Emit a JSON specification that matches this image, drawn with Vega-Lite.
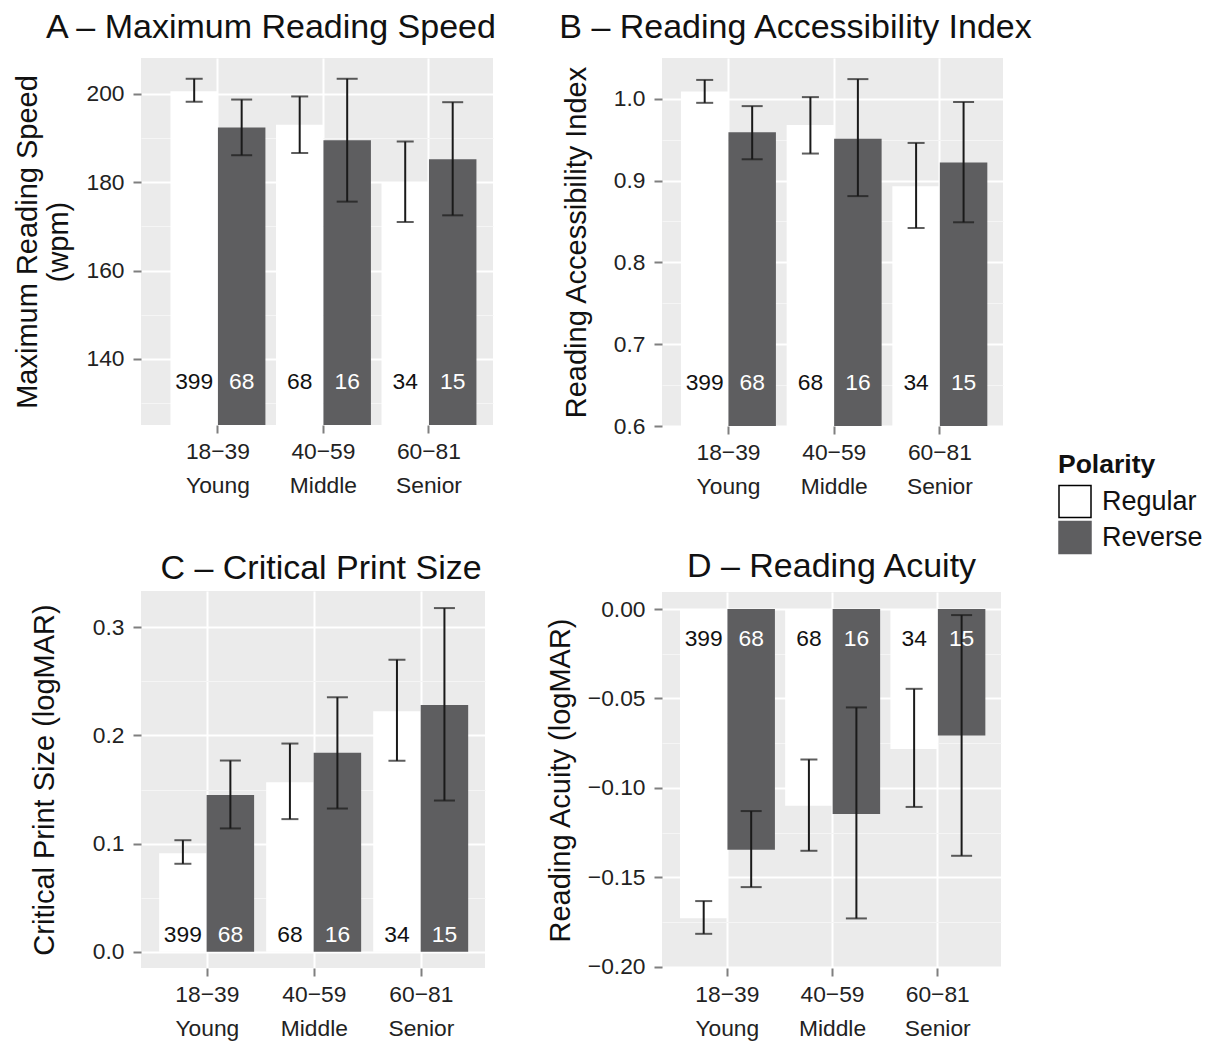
{
  "$schema": "https://vega.github.io/schema/vega-lite/v6.json",
  "padding": {"left": 13, "top": 11, "right": 5, "bottom": 5},
  "data": {"values": [
    {"AgeGroup": "18−39 Young", "Polarity": "Regular", "n": 399, "mrs": 200.6, "mrs_lo": 198.2, "mrs_hi": 203.4, "rai": 1.009, "rai_lo": 0.995, "rai_hi": 1.023, "cps": 0.0911, "cps_lo": 0.0813, "cps_hi": 0.1031, "ra": -0.1728, "ra_lo": -0.1815, "ra_hi": -0.1632},
    {"AgeGroup": "18−39 Young", "Polarity": "Reverse", "n": 68, "mrs": 192.4, "mrs_lo": 186.1, "mrs_hi": 198.7, "rai": 0.959, "rai_lo": 0.926, "rai_hi": 0.991, "cps": 0.1448, "cps_lo": 0.114, "cps_hi": 0.1768, "ra": -0.1345, "ra_lo": -0.1554, "ra_hi": -0.1129},
    {"AgeGroup": "40−59 Middle", "Polarity": "Regular", "n": 68, "mrs": 193.0, "mrs_lo": 186.6, "mrs_hi": 199.4, "rai": 0.968, "rai_lo": 0.933, "rai_hi": 1.002, "cps": 0.1568, "cps_lo": 0.1226, "cps_hi": 0.1925, "ra": -0.1099, "ra_lo": -0.1351, "ra_hi": -0.0841},
    {"AgeGroup": "40−59 Middle", "Polarity": "Reverse", "n": 16, "mrs": 189.5, "mrs_lo": 175.6, "mrs_hi": 203.4, "rai": 0.951, "rai_lo": 0.881, "rai_hi": 1.024, "cps": 0.1839, "cps_lo": 0.1324, "cps_hi": 0.2353, "ra": -0.1146, "ra_lo": -0.1729, "ra_hi": -0.055},
    {"AgeGroup": "60−81 Senior", "Polarity": "Regular", "n": 34, "mrs": 180.05, "mrs_lo": 171.0, "mrs_hi": 189.2, "rai": 0.893, "rai_lo": 0.842, "rai_hi": 0.946, "cps": 0.2224, "cps_lo": 0.1765, "cps_hi": 0.2701, "ra": -0.0782, "ra_lo": -0.1106, "ra_hi": -0.0446},
    {"AgeGroup": "60−81 Senior", "Polarity": "Reverse", "n": 15, "mrs": 185.2, "mrs_lo": 172.5, "mrs_hi": 198.1, "rai": 0.922, "rai_lo": 0.849, "rai_hi": 0.996, "cps": 0.2282, "cps_lo": 0.1398, "cps_hi": 0.3178, "ra": -0.0707, "ra_lo": -0.1379, "ra_hi": -0.0034}
  ]},
  "spacing": 49,
  "hconcat": [
    {
      "spacing": 55,
      "vconcat": [
        {
          "width": 352, "height": 367,
          "title": {"text": "A – Maximum Reading Speed", "dx": -46, "offset": 13},
          "encoding": {
            "x": {"field": "AgeGroup", "type": "nominal", "scale": {"paddingInner": 0.1, "paddingOuter": 0.218, "align": 0.64},
                  "axis": {"title": null, "labelExpr": "split(datum.label, ' ')", "labelAngle": 0, "grid": true, "bandPosition": 0.5, "labelLineHeight": 34, "labelPadding": 7}},
            "xOffset": {"field": "Polarity", "type": "nominal", "sort": ["Regular", "Reverse"]}
          },
          "layer": [
            {"mark": {"type": "bar", "clip": true},
             "encoding": {
               "y": {"field": "mrs", "type": "quantitative", "title": ["Maximum Reading Speed", "(wpm)"],
                     "scale": {"domain": [125.06, 208.1], "nice": false, "zero": false},
                     "axis": {"values": [130, 140, 150, 160, 170, 180, 190, 200], "format": "d", "titlePadding": 12,
                              "labelExpr": "datum.value % 20 == 0 ? datum.label : ''",
                              "tickOpacity": {"condition": {"test": "datum.value % 20 == 0", "value": 1}, "value": 0},
                              "gridColor": {"condition": {"test": "datum.value % 20 == 0", "value": "#FFFFFF"}, "value": "#F5F5F5"},
                              "gridWidth": {"condition": {"test": "datum.value % 20 == 0", "value": 2}, "value": 1.2}}},
               "fill": {"field": "Polarity", "type": "nominal", "scale": {"domain": ["Regular", "Reverse"], "range": ["#FFFFFF", "#5E5E60"]},
                        "legend": {"orient": "none", "legendX": 917, "legendY": 394, "title": "Polarity",
                                   "encode": {"symbols": {"update": {"strokeWidth": {"value": 1.5}, "stroke": {"signal": "datum.value === 'Regular' ? '#000000' : '#5E5E60'"}}}}}}
             }},
            {"mark": {"type": "rule", "color": "#1A1A1A", "strokeWidth": 2},
             "encoding": {"y": {"field": "mrs_lo", "type": "quantitative", "title": ["Maximum Reading Speed", "(wpm)"]}, "y2": {"field": "mrs_hi"}}},
            {"mark": {"type": "tick", "color": "#1A1A1A", "thickness": 2, "orient": "horizontal"},
             "encoding": {"y": {"field": "mrs_lo", "type": "quantitative", "title": ["Maximum Reading Speed", "(wpm)"]},
                          "size": {"condition": {"test": "datum.Polarity === 'Regular'", "value": 17}, "value": 21}}},
            {"mark": {"type": "tick", "color": "#1A1A1A", "thickness": 2, "orient": "horizontal"},
             "encoding": {"y": {"field": "mrs_hi", "type": "quantitative", "title": ["Maximum Reading Speed", "(wpm)"]},
                          "size": {"condition": {"test": "datum.Polarity === 'Regular'", "value": 17}, "value": 21}}},
            {"mark": {"type": "text", "fontSize": 22.8, "baseline": "middle"},
             "encoding": {"y": {"datum": 134.8}, "text": {"field": "n", "type": "nominal"},
                          "color": {"condition": {"test": "datum.Polarity === 'Reverse'", "value": "#FFFFFF"}, "value": "#111111"}}}
          ]
        },
        {
          "width": 344, "height": 377,
          "title": {"text": "C – Critical Print Size", "dx": 8, "offset": 5},
          "encoding": {
            "x": {"field": "AgeGroup", "type": "nominal", "scale": {"paddingInner": 0.1, "paddingOuter": 0.157, "align": 0.54},
                  "axis": {"title": null, "labelExpr": "split(datum.label, ' ')", "labelAngle": 0, "grid": true, "bandPosition": 0.5, "labelLineHeight": 34, "labelPadding": 7}},
            "xOffset": {"field": "Polarity", "type": "nominal", "sort": ["Regular", "Reverse"]}
          },
          "layer": [
            {"mark": {"type": "bar", "clip": true},
             "encoding": {
               "y": {"field": "cps", "type": "quantitative", "title": "Critical Print Size (logMAR)",
                     "scale": {"domain": [-0.0151, 0.3336], "nice": false, "zero": false},
                     "axis": {"values": [0, 0.05, 0.1, 0.15, 0.2, 0.25, 0.3], "format": ".1f", "titlePadding": 33,
                              "labelExpr": "abs(datum.value*10 - round(datum.value*10)) < 0.000001 ? datum.label : ''",
                              "tickOpacity": {"condition": {"test": "abs(datum.value*10 - round(datum.value*10)) < 0.000001", "value": 1}, "value": 0},
                              "gridColor": {"condition": {"test": "abs(datum.value*10 - round(datum.value*10)) < 0.000001", "value": "#FFFFFF"}, "value": "#F5F5F5"},
                              "gridWidth": {"condition": {"test": "abs(datum.value*10 - round(datum.value*10)) < 0.000001", "value": 2}, "value": 1.2}}},
               "fill": {"field": "Polarity", "type": "nominal", "scale": {"domain": ["Regular", "Reverse"], "range": ["#FFFFFF", "#5E5E60"]},
                        "legend": {"orient": "none", "legendX": 917, "legendY": 394, "title": "Polarity",
                                   "encode": {"symbols": {"update": {"strokeWidth": {"value": 1.5}, "stroke": {"signal": "datum.value === 'Regular' ? '#000000' : '#5E5E60'"}}}}}}
             }},
            {"mark": {"type": "rule", "color": "#1A1A1A", "strokeWidth": 2},
             "encoding": {"y": {"field": "cps_lo", "type": "quantitative", "title": "Critical Print Size (logMAR)"}, "y2": {"field": "cps_hi"}}},
            {"mark": {"type": "tick", "color": "#1A1A1A", "thickness": 2, "orient": "horizontal"},
             "encoding": {"y": {"field": "cps_lo", "type": "quantitative", "title": "Critical Print Size (logMAR)"},
                          "size": {"condition": {"test": "datum.Polarity === 'Regular'", "value": 17}, "value": 21}}},
            {"mark": {"type": "tick", "color": "#1A1A1A", "thickness": 2, "orient": "horizontal"},
             "encoding": {"y": {"field": "cps_hi", "type": "quantitative", "title": "Critical Print Size (logMAR)"},
                          "size": {"condition": {"test": "datum.Polarity === 'Regular'", "value": 17}, "value": 21}}},
            {"mark": {"type": "text", "fontSize": 22.8, "baseline": "middle"},
             "encoding": {"y": {"datum": 0.0157}, "text": {"field": "n", "type": "nominal"},
                          "color": {"condition": {"test": "datum.Polarity === 'Reverse'", "value": "#FFFFFF"}, "value": "#111111"}}}
          ]
        }
      ]
    },
    {
      "spacing": 52,
      "vconcat": [
        {
          "width": 341, "height": 368,
          "title": {"text": "B – Reading Accessibility Index", "dx": -37, "offset": 13},
          "encoding": {
            "x": {"field": "AgeGroup", "type": "nominal", "scale": {"paddingInner": 0.1, "paddingOuter": 0.163, "align": 0.55},
                  "axis": {"title": null, "labelExpr": "split(datum.label, ' ')", "labelAngle": 0, "grid": true, "bandPosition": 0.5, "labelLineHeight": 34, "labelPadding": 7}},
            "xOffset": {"field": "Polarity", "type": "nominal", "sort": ["Regular", "Reverse"]}
          },
          "layer": [
            {"mark": {"type": "bar", "clip": true},
             "encoding": {
               "y": {"field": "rai", "type": "quantitative", "title": "Reading Accessibility Index",
                     "scale": {"domain": [0.6, 1.0498], "nice": false, "zero": false},
                     "axis": {"values": [0.6, 0.65, 0.7, 0.75, 0.8, 0.85, 0.9, 0.95, 1.0], "format": ".1f", "titlePadding": 22,
                              "labelExpr": "abs(datum.value*10 - round(datum.value*10)) < 0.000001 ? datum.label : ''",
                              "tickOpacity": {"condition": {"test": "abs(datum.value*10 - round(datum.value*10)) < 0.000001", "value": 1}, "value": 0},
                              "gridColor": {"condition": {"test": "abs(datum.value*10 - round(datum.value*10)) < 0.000001", "value": "#FFFFFF"}, "value": "#F5F5F5"},
                              "gridWidth": {"condition": {"test": "abs(datum.value*10 - round(datum.value*10)) < 0.000001", "value": 2}, "value": 1.2}}},
               "fill": {"field": "Polarity", "type": "nominal", "scale": {"domain": ["Regular", "Reverse"], "range": ["#FFFFFF", "#5E5E60"]},
                        "legend": {"orient": "none", "legendX": 917, "legendY": 394, "title": "Polarity",
                                   "encode": {"symbols": {"update": {"strokeWidth": {"value": 1.5}, "stroke": {"signal": "datum.value === 'Regular' ? '#000000' : '#5E5E60'"}}}}}}
             }},
            {"mark": {"type": "rule", "color": "#1A1A1A", "strokeWidth": 2},
             "encoding": {"y": {"field": "rai_lo", "type": "quantitative", "title": "Reading Accessibility Index"}, "y2": {"field": "rai_hi"}}},
            {"mark": {"type": "tick", "color": "#1A1A1A", "thickness": 2, "orient": "horizontal"},
             "encoding": {"y": {"field": "rai_lo", "type": "quantitative", "title": "Reading Accessibility Index"},
                          "size": {"condition": {"test": "datum.Polarity === 'Regular'", "value": 17}, "value": 21}}},
            {"mark": {"type": "tick", "color": "#1A1A1A", "thickness": 2, "orient": "horizontal"},
             "encoding": {"y": {"field": "rai_hi", "type": "quantitative", "title": "Reading Accessibility Index"},
                          "size": {"condition": {"test": "datum.Polarity === 'Regular'", "value": 17}, "value": 21}}},
            {"mark": {"type": "text", "fontSize": 22.8, "baseline": "middle"},
             "encoding": {"y": {"datum": 0.6527}, "text": {"field": "n", "type": "nominal"},
                          "color": {"condition": {"test": "datum.Polarity === 'Reverse'", "value": "#FFFFFF"}, "value": "#111111"}}}
          ]
        },
        {
          "width": 339, "height": 376,
          "title": {"text": "D – Reading Acuity", "offset": 8},
          "encoding": {
            "x": {"field": "AgeGroup", "type": "nominal", "scale": {"paddingInner": 0.1, "paddingOuter": 0.161, "align": 0.53},
                  "axis": {"title": null, "labelExpr": "split(datum.label, ' ')", "labelAngle": 0, "grid": true, "bandPosition": 0.5, "labelLineHeight": 34, "labelPadding": 7}},
            "xOffset": {"field": "Polarity", "type": "nominal", "sort": ["Regular", "Reverse"]}
          },
          "layer": [
            {"mark": {"type": "bar", "clip": true},
             "encoding": {
               "y": {"field": "ra", "type": "quantitative", "title": "Reading Acuity (logMAR)",
                     "scale": {"domain": [-0.2006, 0.0095], "nice": false, "zero": false},
                     "axis": {"values": [-0.2, -0.175, -0.15, -0.125, -0.1, -0.075, -0.05, -0.025, 0], "format": ".2f", "titlePadding": 12,
                              "labelExpr": "abs(datum.value*20 - round(datum.value*20)) < 0.000001 ? datum.label : ''",
                              "tickOpacity": {"condition": {"test": "abs(datum.value*20 - round(datum.value*20)) < 0.000001", "value": 1}, "value": 0},
                              "gridColor": {"condition": {"test": "abs(datum.value*20 - round(datum.value*20)) < 0.000001", "value": "#FFFFFF"}, "value": "#F5F5F5"},
                              "gridWidth": {"condition": {"test": "abs(datum.value*20 - round(datum.value*20)) < 0.000001", "value": 2}, "value": 1.2}}},
               "fill": {"field": "Polarity", "type": "nominal", "scale": {"domain": ["Regular", "Reverse"], "range": ["#FFFFFF", "#5E5E60"]},
                        "legend": {"orient": "none", "legendX": 917, "legendY": 394, "title": "Polarity",
                                   "encode": {"symbols": {"update": {"strokeWidth": {"value": 1.5}, "stroke": {"signal": "datum.value === 'Regular' ? '#000000' : '#5E5E60'"}}}}}}
             }},
            {"mark": {"type": "rule", "color": "#1A1A1A", "strokeWidth": 2},
             "encoding": {"y": {"field": "ra_lo", "type": "quantitative", "title": "Reading Acuity (logMAR)"}, "y2": {"field": "ra_hi"}}},
            {"mark": {"type": "tick", "color": "#1A1A1A", "thickness": 2, "orient": "horizontal"},
             "encoding": {"y": {"field": "ra_lo", "type": "quantitative", "title": "Reading Acuity (logMAR)"},
                          "size": {"condition": {"test": "datum.Polarity === 'Regular'", "value": 17}, "value": 21}}},
            {"mark": {"type": "tick", "color": "#1A1A1A", "thickness": 2, "orient": "horizontal"},
             "encoding": {"y": {"field": "ra_hi", "type": "quantitative", "title": "Reading Acuity (logMAR)"},
                          "size": {"condition": {"test": "datum.Polarity === 'Regular'", "value": 17}, "value": 21}}},
            {"mark": {"type": "text", "fontSize": 22.8, "baseline": "middle"},
             "encoding": {"y": {"datum": -0.0166}, "text": {"field": "n", "type": "nominal"},
                          "color": {"condition": {"test": "datum.Polarity === 'Reverse'", "value": "#FFFFFF"}, "value": "#111111"}}}
          ]
        }
      ]
    }
  ],
  "config": {
    "font": "Liberation Sans",
    "view": {"fill": "#EBEBEB", "stroke": null},
    "axis": {"domain": false, "labelFontSize": 22.8, "labelColor": "#222222", "tickColor": "#7F7F7F", "tickSize": 8, "tickWidth": 2,
             "titleFontSize": 29, "titleFontWeight": "normal", "titleColor": "#111111", "gridColor": "#FFFFFF", "gridWidth": 2, "labelPadding": 9},
    "title": {"fontSize": 34, "fontWeight": "normal", "color": "#111111", "anchor": "middle", "frame": "group"},
    "legend": {"titleFontSize": 26.5, "titleFontWeight": "bold", "titleColor": "#111111", "labelFontSize": 27, "labelColor": "#111111", "padding": 0,
               "symbolType": "square", "symbolSize": 1024, "rowPadding": -2, "labelOffset": 10, "titlePadding": 6}
  }
}
